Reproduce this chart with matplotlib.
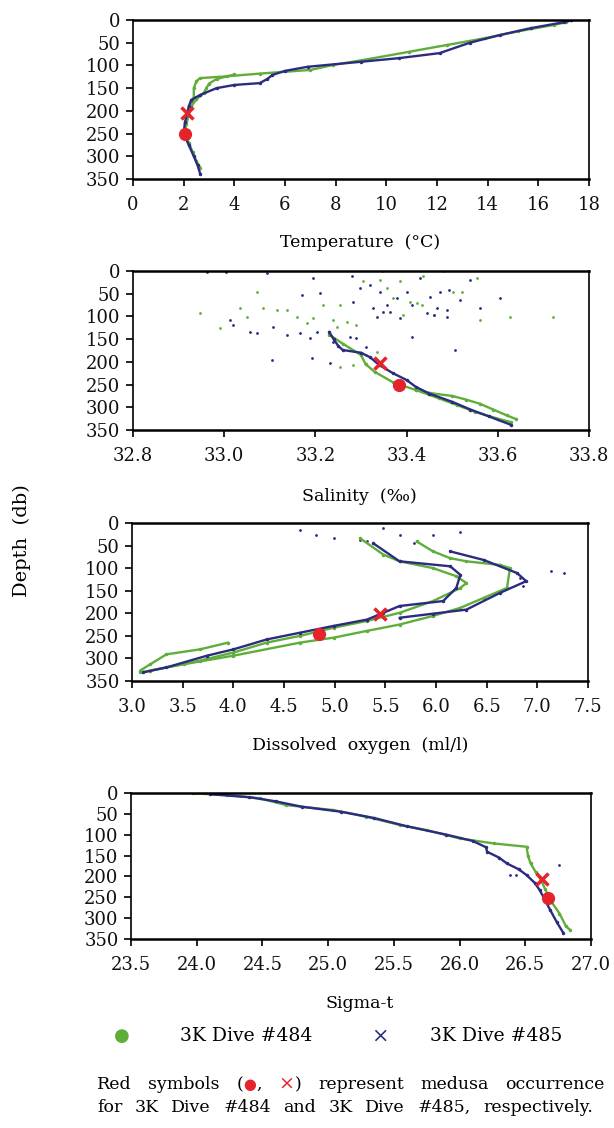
import numpy as np
import matplotlib
matplotlib.use("Agg")
import matplotlib.pyplot as plt

plt.rcParams['font.family'] = ['DejaVu Serif', 'DejaVu Sans']

GREEN = '#5fae3a'
BLUE = '#2b2c80'
RED = '#e4232b'

# ---- Temperature (deg C) vs depth (db)
temp_484_depth = [0, 5, 11, 25, 40, 55, 70, 85, 99, 110, 118, 124, 128, 135, 150, 170, 190, 210, 230, 250, 270, 290, 310, 325]
temp_484 = [17.3, 17.1, 16.6, 15.2, 13.9, 12.4, 10.9, 9.4, 7.9, 7.0, 5.0, 3.7, 2.65, 2.5, 2.4, 2.4, 2.3, 2.2, 2.1, 2.05, 2.2, 2.35, 2.5, 2.65]
temp_484b_depth = [120, 130, 140, 150, 160, 175, 190]
temp_484b = [4.0, 3.3, 3.0, 2.9, 2.8, 2.5, 2.3]
temp_485_depth = [0, 5, 18, 33, 50, 73, 84, 92, 103, 112, 121, 130, 139, 143, 150, 165, 176, 190, 205, 225, 250, 275, 300, 320, 338]
temp_485 = [17.3, 17.0, 15.7, 14.5, 13.3, 12.1, 10.5, 9.0, 6.9, 6.0, 5.5, 5.3, 5.0, 4.0, 3.3, 2.65, 2.3, 2.2, 2.15, 2.05, 2.0, 2.2, 2.4, 2.55, 2.65]

# ---- Salinity (permil)
sal_484_depth = [140, 160, 185, 205, 222, 245, 262, 270, 275, 283, 292, 305, 318, 326]
sal_484 = [33.23, 33.26, 33.30, 33.31, 33.33, 33.37, 33.42, 33.46, 33.50, 33.53, 33.56, 33.59, 33.62, 33.64]
sal_484b_depth = [262, 280, 295, 310, 325, 333]
sal_484b = [33.42, 33.47, 33.51, 33.55, 33.60, 33.63]
sal_485_depth = [134, 150, 165, 174, 180, 190, 207, 225, 240, 255, 270, 288, 305, 320, 339]
sal_485 = [33.23, 33.24, 33.25, 33.26, 33.30, 33.32, 33.34, 33.37, 33.40, 33.42, 33.45, 33.50, 33.54, 33.58, 33.63]
# scattered near-surface readings
sal_484_pts = [32.947, 32.991, 33.035, 33.049, 33.071, 33.086, 33.115, 33.137, 33.159, 33.181, 33.195, 33.217,
               33.239, 33.247, 33.254, 33.269, 33.290, 33.305, 33.342, 33.356, 33.371, 33.386, 33.393, 33.407,
               33.422, 33.433, 33.437, 33.459, 33.502, 33.521, 33.554, 33.561, 33.627, 33.722, 33.254, 33.283,
               33.312, 33.334, 33.345, 33.481]
sal_484_pts_depth = [93, 126, 82, 101, 46, 82, 86, 86, 101, 115, 104, 75,
                     108, 123, 75, 112, 119, 23, 20, 38, 60, 23, 97, 68,
                     71, 75, 12, 97, 46, 46, 16, 108, 101, 101, 211, 207,
                     185, 178, 1, 1]
sal_485_pts = [32.962, 33.005, 33.093, 33.195, 33.170, 33.210, 33.283, 33.280, 33.298, 33.320, 33.342, 33.356,
               33.364, 33.378, 33.400, 33.411, 33.429, 33.451, 33.466, 33.473, 33.488, 33.492, 33.517, 33.539,
               33.561, 33.605, 33.506, 33.411, 33.104, 33.192, 33.232, 33.013, 33.020, 33.057, 33.071, 33.108,
               33.137, 33.166, 33.188, 33.203, 33.239, 33.276, 33.290, 33.312, 33.327, 33.334, 33.349, 33.386,
               33.444, 33.459, 33.488]
sal_485_pts_depth = [2, 3, 5, 15, 53, 49, 68, 12, 38, 31, 46, 75,
                     90, 60, 46, 75, 16, 57, 82, 46, 86, 42, 64, 20,
                     82, 60, 174, 145, 196, 192, 203, 108, 119, 134, 137, 123,
                     141, 137, 148, 134, 156, 145, 148, 167, 82, 101, 90, 104,
                     93, 97, 101]

# ---- Dissolved oxygen (ml/l)
oxy_484_depth = [34, 70, 85, 100, 118, 133, 144, 173, 199, 217, 232, 250, 265, 287, 305, 327, 331]
oxy_484 = [5.25, 5.48, 5.64, 5.97, 6.20, 6.30, 6.24, 5.97, 5.64, 5.32, 4.99, 4.66, 4.33, 4.00, 3.67, 3.18, 3.08]
oxy_484b_depth = [41, 63, 78, 85, 93, 100, 144, 166, 188, 206, 225, 239, 254, 265, 294, 313, 327]
oxy_484b = [5.81, 5.97, 6.14, 6.30, 6.63, 6.73, 6.70, 6.47, 6.24, 5.97, 5.64, 5.32, 4.99, 4.66, 4.00, 3.51, 3.18]
oxy_484c_depth = [265, 280, 291, 313, 327]
oxy_484c = [3.95, 3.67, 3.34, 3.18, 3.08]
oxy_485_depth = [45, 85, 96, 115, 144, 173, 184, 199, 214, 228, 243, 258, 280, 294, 320, 331]
oxy_485 = [5.38, 5.64, 6.14, 6.24, 6.20, 6.07, 5.64, 5.48, 5.32, 4.99, 4.66, 4.33, 4.00, 3.74, 3.34, 3.11]
oxy_485b_depth = [63, 82, 111, 129, 155, 192, 201, 210]
oxy_485b = [6.14, 6.47, 6.80, 6.89, 6.63, 6.30, 5.97, 5.64]
oxy_surface = [4.66, 4.82, 4.99, 5.25, 5.32, 5.48, 5.64, 5.78, 5.97, 6.24, 7.13, 7.26, 6.83, 6.86]
oxy_surface_depth = [15, 26, 34, 37, 41, 12, 26, 45, 26, 19, 107, 111, 122, 140]

# ---- Sigma-t
sig_484_depth = [1, 5, 13, 29, 41, 57, 77, 89, 109, 121, 129, 150, 169, 190, 209, 230, 257, 289, 320, 328]
sig_484 = [23.97, 24.23, 24.48, 24.68, 25.04, 25.29, 25.55, 25.75, 26.0, 26.26, 26.51, 26.52, 26.54, 26.58, 26.62, 26.65, 26.69, 26.76, 26.81, 26.84]
sig_485_depth = [3, 10, 20, 33, 45, 60, 80, 100, 115, 130, 141, 155, 169, 183, 197, 215, 233, 257, 281, 310, 336]
sig_485 = [24.1, 24.4, 24.6, 24.8, 25.1, 25.35, 25.6, 25.9, 26.1, 26.2, 26.21, 26.3, 26.36, 26.45, 26.51, 26.57, 26.61, 26.65, 26.69, 26.74, 26.79]
sig_485_pts = [26.38, 26.43, 26.76]
sig_485_pts_depth = [197, 197, 173]

# ---- medusa occurrences (x value, depth) per panel
medusa_484 = {'temp': (2.05, 250), 'sal': (33.383, 251), 'oxy': (4.85, 247), 'sig': (26.67, 252)}
medusa_485 = {'temp': (2.15, 205), 'sal': (33.342, 203), 'oxy': (5.45, 201), 'sig': (26.63, 207)}

PANELS = [
    # key, rect (fig frac), xlim, xticks, fmt, label, label y
    ('temp', [0.2166, 0.8413, 0.7427, 0.1410], (0, 18), np.arange(0, 19, 2), '{:.0f}', 'Temperature  (°C)', 0.7846),
    ('sal', [0.2166, 0.6188, 0.7427, 0.1410], (32.8, 33.8), np.arange(32.8, 33.81, 0.2), '{:.1f}', 'Salinity  (‰)', 0.5594),
    ('oxy', [0.2150, 0.3963, 0.7427, 0.1401], (3.0, 7.5), np.arange(3.0, 7.51, 0.5), '{:.1f}', 'Dissolved  oxygen  (ml/l)', 0.3387),
    ('sig', [0.2134, 0.1676, 0.7492, 0.1294], (23.5, 27.0), np.arange(23.5, 27.01, 0.5), '{:.1f}', 'Sigma-t', 0.1108),
]

TRACKS = {
    'temp': [(temp_484, temp_484_depth, GREEN), (temp_484b, temp_484b_depth, GREEN), (temp_485, temp_485_depth, BLUE)],
    'sal': [(sal_484, sal_484_depth, GREEN), (sal_484b, sal_484b_depth, GREEN), (sal_485, sal_485_depth, BLUE)],
    'oxy': [(oxy_484, oxy_484_depth, GREEN), (oxy_484b, oxy_484b_depth, GREEN), (oxy_484c, oxy_484c_depth, GREEN),
            (oxy_485, oxy_485_depth, BLUE), (oxy_485b, oxy_485b_depth, BLUE)],
    'sig': [(sig_484, sig_484_depth, GREEN), (sig_485, sig_485_depth, BLUE)],
}

fig = plt.figure(figsize=(6.14, 11.28), dpi=100)

for key, rect, xlim, xticks, fmt, label, ly in PANELS:
    ax = fig.add_axes(rect)
    for xs, ds, col in TRACKS[key]:
        ax.plot(xs, ds, color=col, lw=1.7, marker='.', ms=3, solid_capstyle='round')
    if key == 'sal':
        ax.scatter(sal_484_pts, sal_484_pts_depth, s=4, color=GREEN, lw=0)
        ax.scatter(sal_485_pts, sal_485_pts_depth, s=4, color=BLUE, lw=0)
    if key == 'oxy':
        ax.scatter(oxy_surface, oxy_surface_depth, s=4, color=BLUE, lw=0)
    if key == 'sig':
        ax.scatter(sig_485_pts, sig_485_pts_depth, s=4, color=BLUE, lw=0)
    ax.plot(*medusa_484[key], marker='o', color=RED, ms=8.5, ls='none', zorder=5)
    ax.plot(*medusa_485[key], marker='x', color=RED, ms=8.5, mew=2.5, ls='none', zorder=5)

    ax.set_xlim(*xlim)
    ax.set_ylim(350, 0)
    ax.set_yticks(range(0, 351, 50))
    ax.set_xticks(xticks)
    ax.set_xticklabels([fmt.format(v) for v in xticks])
    ax.tick_params(direction='out', length=5, width=1.3, labelsize=13, pad=4, colors='#111111')
    ax.tick_params(axis='x', pad=7)
    for side in ['top', 'bottom']:
        ax.spines[side].set_linewidth(1.8)
    for side in ['left', 'right']:
        ax.spines[side].set_linewidth(1.2)
    fig.text(0.586, ly, label, ha='center', va='center', fontsize=12.5)

fig.text(0.036, 0.521, 'Depth  (db)', rotation=90, ha='center', va='center', fontsize=14)

# legend row
fig.text(122 / 614, 0.0816, '●', color=GREEN, ha='center', va='center', fontsize=13, family='DejaVu Sans')
fig.text(180 / 614, 0.0816, '3K Dive #484', ha='left', va='center', fontsize=13.5)
fig.text(380 / 614, 0.0816, '×', color=BLUE, ha='center', va='center', fontsize=15)
fig.text(430 / 614, 0.0816, '3K Dive #485', ha='left', va='center', fontsize=13.5)

# footnote, justified between x0 and x1 (pixels), with red symbols
renderer = fig.canvas.get_renderer()
W = fig.bbox.width


def advance(s, fs):
    t = fig.text(0, 0, 'I' + s + 'I', fontsize=fs)
    w1 = t.get_window_extent(renderer).width
    t.set_text('II')
    w0 = t.get_window_extent(renderer).width
    t.remove()
    return w1 - w0


def justified(y, tokens, x0, x1, fs=12.5):
    widths = [[advance(p, fs * k) for p, c, k in tok] for tok in tokens]
    gap = (x1 - x0 - sum(sum(w) for w in widths)) / (len(tokens) - 1)
    x = x0
    for tok, ws in zip(tokens, widths):
        for (p, c, k), w in zip(tok, ws):
            fig.text(x / W, y, p, color=c, ha='left', va='baseline', fontsize=fs * k)
            x += w
        x += gap


K = 'black'
line1 = [[('Red', K, 1)], [('symbols', K, 1)],
         [('(', K, 1), ('●', RED, 0.85), (',', K, 1)], [('×', RED, 1.1), (')', K, 1)],
         [('represent', K, 1)], [('medusa', K, 1)], [('occurrence', K, 1)]]
line2 = [[(w, K, 1)] for w in 'for 3K Dive #484 and 3K Dive #485, respectively.'.split()]
justified(1 - 1089 / 1128, line1, 97, 605)
justified(1 - 1112 / 1128, line2, 97, 593)

fig.savefig('out.png', dpi=100)
